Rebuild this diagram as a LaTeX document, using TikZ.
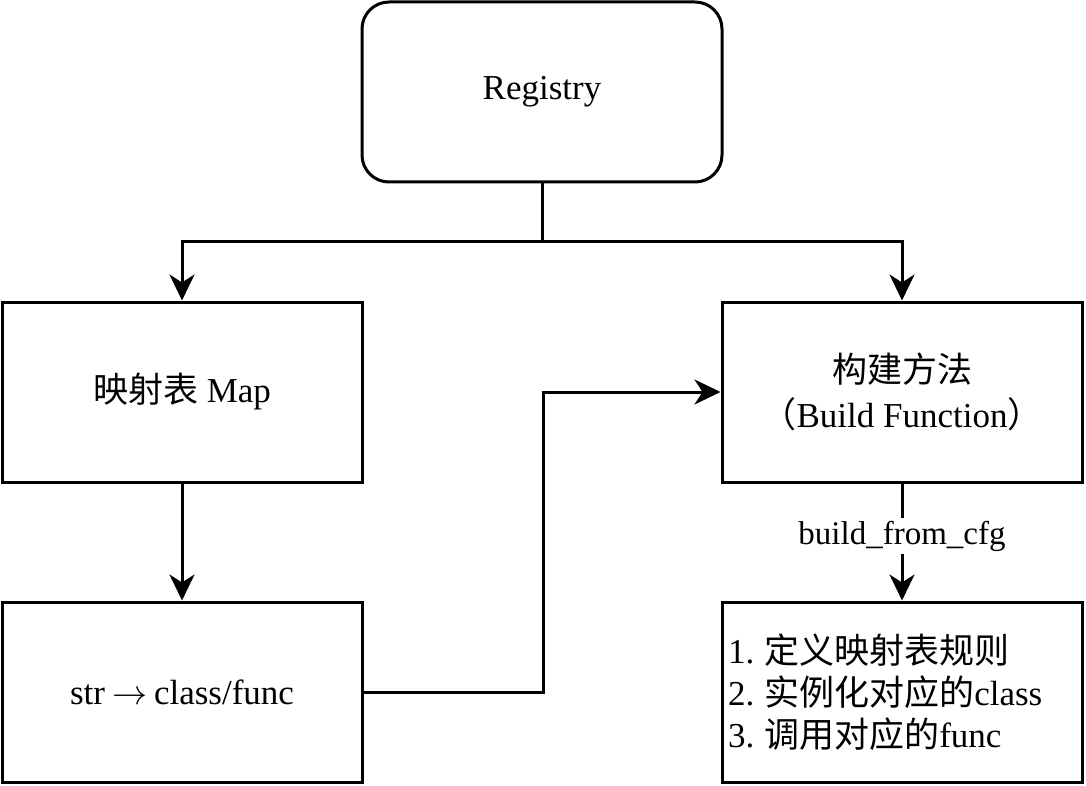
\RequirePackage{fix-cm}
\documentclass[tikz,border=0pt]{standalone}
\usepackage{fontspec}
\setmainfont{Liberation Serif}
\newfontfamily\cjk{Noto Sans CJK SC}
\usetikzlibrary{arrows.meta}
\tikzset{
  box/.style={draw, line width=3pt, minimum width=360pt, minimum height=180pt, inner sep=0pt, font=\fontsize{35}{42}\selectfont},
  arr/.style={-{Stealth[length=26pt,width=25pt,inset=8pt]}, line width=3pt},
  lbl/.style={fill=white, inner sep=3pt, font=\fontsize{33}{40}\selectfont}
}
\begin{document}
\begin{tikzpicture}[x=1pt,y=-1pt]
\useasboundingbox (0,0) rectangle (1086,786);
\node[box, rounded corners=27pt] (reg) at (542,92) {Registry};
\node[box] (map) at (182,392) {{\cjk 映射表} Map};
\node[box, align=center, font=\fontsize{35}{45}\selectfont] (build) at (902,392) {{\cjk 构建方法}\\{\cjk （}Build Function{\cjk ）}};
\node[box] (str) at (182,692) {str\hspace{7pt}$\rightarrow$\hspace{7pt}class/func};
\node[box, text width=348pt, align=left, inner xsep=6pt] (list) at (902,692) {1.\hspace{10pt}{\cjk 定义映射表规则}\\2.\hspace{10pt}{\cjk 实例化对应的}class\\3.\hspace{10pt}{\cjk 调用对应的}func};
\coordinate (j) at (542,242);
\draw[line width=3pt] (reg.south) -- (j);
\draw[arr] (j) -| (map.north);
\draw[arr] (j) -| (build.north);
\draw[arr] (map.south) -- (str.north);
\draw[arr] (str.east) -- ++(180,0) |- (build.west);
\draw[arr] (build.south) -- node[lbl, pos=0.45] {build\_from\_cfg} (list.north);
\end{tikzpicture}
\end{document}
